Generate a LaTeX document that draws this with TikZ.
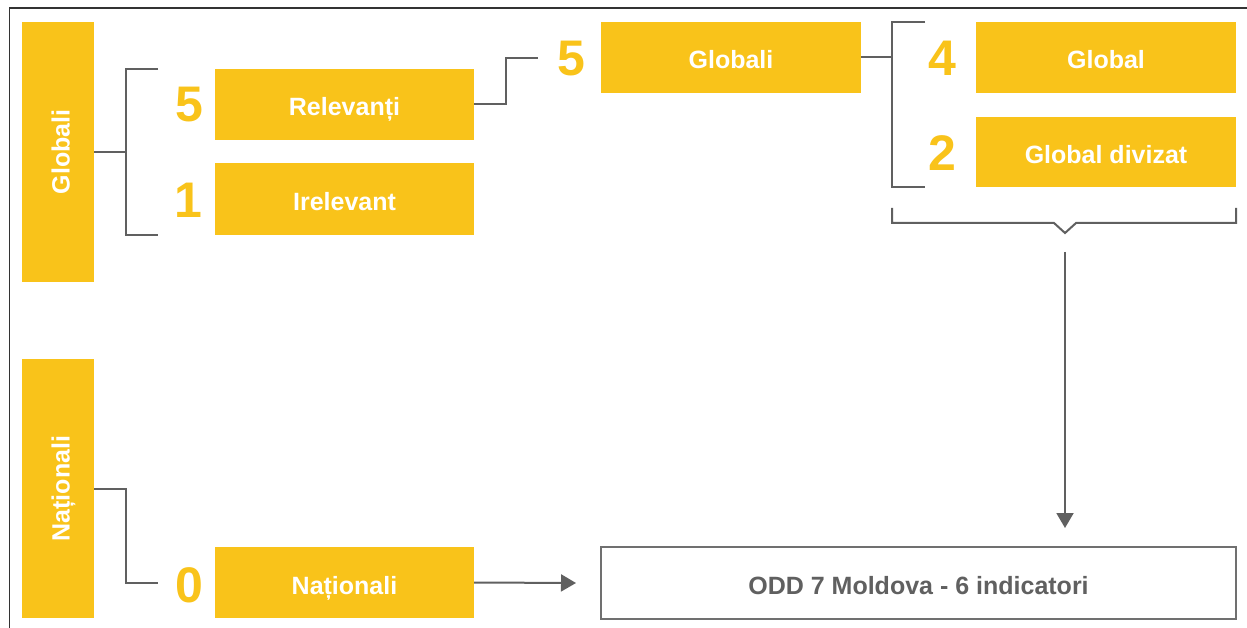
\documentclass[tikz,border=0pt]{standalone}
\usepackage{fontspec}
\setmainfont{Liberation Sans}
\usetikzlibrary{arrows.meta}
\definecolor{ylw}{HTML}{F9C31A}
\definecolor{lgray}{HTML}{606060}
\definecolor{bgray}{HTML}{707070}
\tikzset{
  ybox/.style={fill=ylw, draw=none, inner sep=0pt, text=white,
    text height=23pt, text depth=0pt,
    font=\fontsize{25}{30}\selectfont\bfseries},
  numlbl/.style={inner sep=0pt, text=ylw, font=\fontsize{50}{60}\selectfont\bfseries},
  conn/.style={draw=lgray, line width=2pt},
  arr/.style={conn, -{Triangle[length=15pt,width=17pt]}},
}
\begin{document}
\begin{tikzpicture}[x=1pt,y=-1pt]
\useasboundingbox (0,0) rectangle (1247,628);
\fill[white] (0,0) rectangle (1247,628);
\draw[line width=1.5pt, black!80] (9.5,628) -- (9.5,8) -- (1247,8);

% vertical category boxes
\node[ybox, minimum width=72pt, minimum height=260pt] (gl) at (58,152) {};
\node[ybox, rotate=90] at (gl.center) {Globali};
\node[ybox, minimum width=72pt, minimum height=259pt] (na) at (58,488.5) {};
\node[ybox, rotate=90] at (na.center) {Naționali};

% boxes
\node[ybox, minimum width=259pt, minimum height=71pt] (rel) at (344.5,104.5) {Relevanți};
\node[ybox, minimum width=259pt, minimum height=72pt] (irel) at (344.5,199) {Irelevant};
\node[ybox, minimum width=260pt, minimum height=71pt] (glob) at (731,57.5) {Globali};
\node[ybox, minimum width=260pt, minimum height=71pt] (g4) at (1106,57.5) {Global};
\node[ybox, minimum width=260pt, minimum height=70pt] (g2) at (1106,152) {Global divizat};
\node[ybox, minimum width=259pt, minimum height=71pt] (nat) at (344.5,582.5) {Naționali};
\node[draw=bgray, line width=2pt, minimum width=635pt, minimum height=72pt, inner sep=0pt,
  text height=23pt, text depth=0pt,
  text=lgray, font=\fontsize{25}{30}\selectfont\bfseries] (odd) at (918.5,583) {ODD 7 Moldova - 6 indicatori};

% numbers
\node[numlbl] (n5a) at (189.5,105) {5};
\node[numlbl] (n1) at (188.5,200) {1};
\node[numlbl] (n5b) at (571.5,58.5) {5};
\node[numlbl] (n4) at (942,58) {4};
\node[numlbl] (n2) at (942,153) {2};
\node[numlbl] (n0) at (189,585) {0};

% coordinates
\coordinate (b1) at (126,152);
\coordinate (b1t) at (158,69);
\coordinate (b1b) at (158,235);
\coordinate (s1) at (538,58);
\coordinate (b2) at (892,57.5);
\coordinate (b2t) at (925,22);
\coordinate (b2b) at (925,187);
\coordinate (br) at (892,208);
\coordinate (bl) at (1236,208);
\coordinate (vs) at (1065,252);
\coordinate (vt) at (1065,528);
\coordinate (ht) at (576,583);
\coordinate (nend) at (158,583);

% connectors
\draw[conn] (gl.east |- b1) -- (b1);
\draw[conn] (b1t) -- (126,69) -- (126,235) -- (b1b);
\draw[conn] (rel.east) -| (506,58) -- (s1);
\draw[conn] (glob.east) -- (b2);
\draw[conn] (b2t) -- (892,22) -- (892,187) -- (b2b);
\draw[conn] (br) -- (892,223) -- (1054,223) -- (1065,233) -- (1076,223) -- (1236,223) -- (bl);
\draw[arr] (vs) -- (vt);
\draw[conn] (na.east |- 0,489) -- (126,489) -- (126,583) -- (nend);
\draw[arr] (nat.east) -- (ht);
\end{tikzpicture}
\end{document}
